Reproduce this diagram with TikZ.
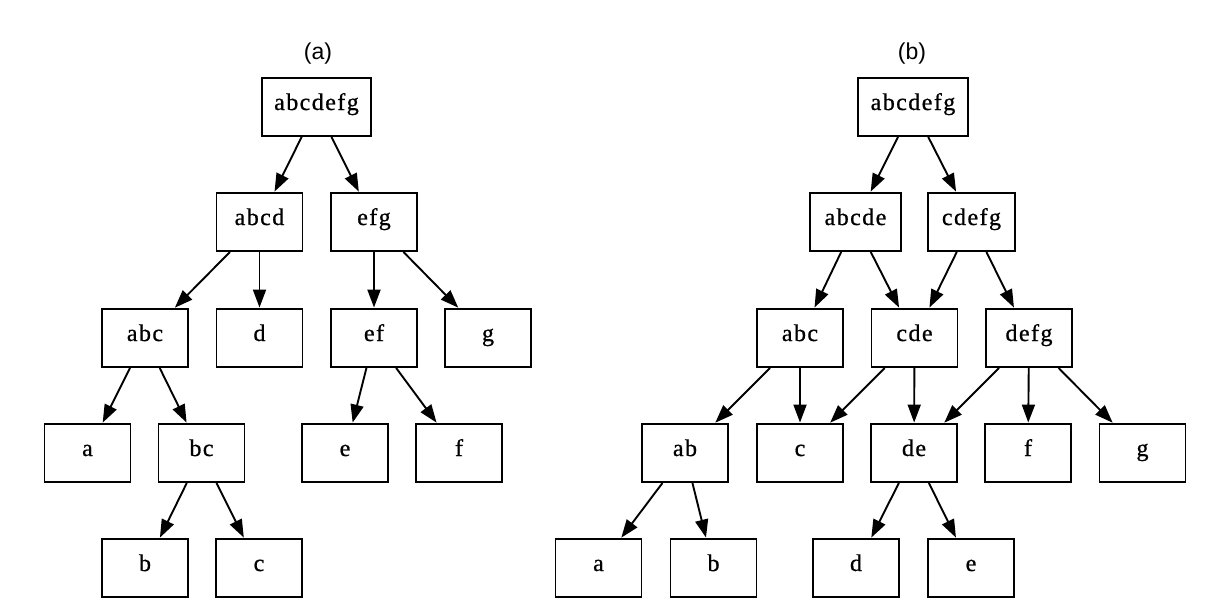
\documentclass[tikz,border=0pt]{standalone}
\usepackage{fontspec}
\setmainfont{Liberation Serif}
\newfontfamily\boxfont[LetterSpace=6.0,FakeBold=0.8]{Liberation Serif}
\newfontfamily\labelfont{Liberation Sans}
\usetikzlibrary{arrows.meta}
\tikzset{
  box/.style={draw, line width=1.9pt, minimum width=86pt, minimum height=58pt, inner sep=0pt,
    text height=11pt, text depth=5pt,
    font=\boxfont\fontsize{24}{26}\selectfont},
  edge/.style={line width=1.9pt, -{Triangle[length=18pt,width=13pt]}, shorten >=0.5pt},
  panellabel/.style={font=\labelfont\fontsize{23}{25}\selectfont}
}
\begin{document}
\begin{tikzpicture}[x=1pt,y=-1pt]
\useasboundingbox (0,0) rectangle (1214,614);
% (a)
\node[panellabel] (la) at (318,54) {(a)};
\node[box, minimum width=109pt] (A0) at (316.5,107) {abcdefg};
\node[box] (A1) at (259.5,222) {abcd};
\node[box] (A2) at (374,222) {efg};
\node[box] (A3) at (145,338) {abc};
\node[box] (A4) at (259.5,338) {d};
\node[box] (A5) at (374,338) {ef};
\node[box] (A6) at (488,338) {g};
\node[box] (A7) at (87.5,453) {a};
\node[box] (A8) at (201.5,453) {bc};
\node[box] (A9) at (345,453) {e};
\node[box] (A10) at (459,453) {f};
\node[box] (A11) at (145,568) {b};
\node[box] (A12) at (259,568) {c};
\draw[edge] (A0) -- (A1);
\draw[edge] (A0) -- (A2);
\draw[edge] (A1) -- (A3);
\draw[edge] (A1) -- (A4);
\draw[edge] (A2) -- (A5);
\draw[edge] (A2) -- (A6);
\draw[edge] (A3) -- (A7);
\draw[edge] (A3) -- (A8);
\draw[edge] (A5) -- (A9);
\draw[edge] (A5) -- (A10);
\draw[edge] (A8) -- (A11);
\draw[edge] (A8) -- (A12);
% (b)
\node[panellabel] (lb) at (912,54) {(b)};
\node[box, minimum width=110pt] (B0) at (913,107) {abcdefg};
\node[box, minimum width=91pt] (B1) at (855.5,222) {abcde};
\node[box, minimum width=87pt] (B2) at (971.5,222) {cdefg};
\node[box] (B3) at (800,338) {abc};
\node[box] (B4) at (914.5,338) {cde};
\node[box] (B5) at (1029,338) {defg};
\node[box] (B6) at (685,453) {ab};
\node[box] (B7) at (800,453) {c};
\node[box] (B8) at (914,453) {de};
\node[box] (B9) at (1028,453) {f};
\node[box] (B10) at (1142.5,453) {g};
\node[box] (B11) at (598.5,568) {a};
\node[box] (B12) at (713.5,568) {b};
\node[box] (B13) at (856,568) {d};
\node[box] (B14) at (971,568) {e};
\draw[edge] (B0) -- (B1);
\draw[edge] (B0) -- (B2);
\draw[edge] (B1) -- (B3);
\draw[edge] (B1) -- (B4);
\draw[edge] (B2) -- (B4);
\draw[edge] (B2) -- (B5);
\draw[edge] (B3) -- (B6);
\draw[edge] (B3) -- (B7);
\draw[edge] (B4) -- (B7);
\draw[edge] (B4) -- (B8);
\draw[edge] (B5) -- (B8);
\draw[edge] (B5) -- (B9);
\draw[edge] (B5) -- (B10);
\draw[edge] (B6) -- (B11);
\draw[edge] (B6) -- (B12);
\draw[edge] (B8) -- (B13);
\draw[edge] (B8) -- (B14);
\end{tikzpicture}
\end{document}
